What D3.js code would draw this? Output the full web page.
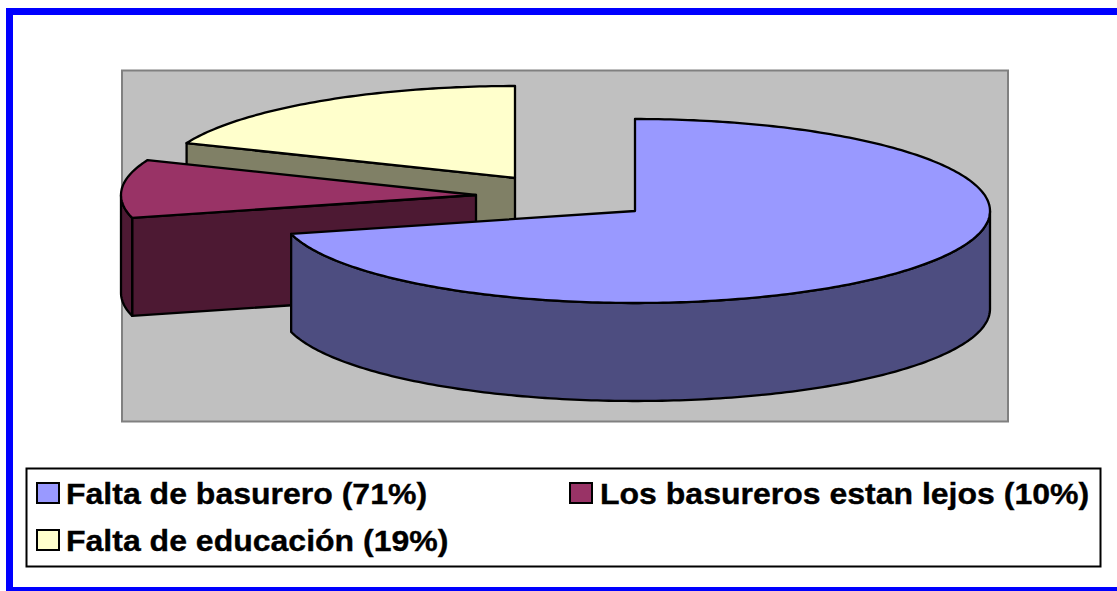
<!DOCTYPE html>
<html><head><meta charset="utf-8">
<script src="https://cdn.jsdelivr.net/npm/d3@7"></script>
<style>html,body{margin:0;padding:0;background:#fff;overflow:hidden}svg{display:block}</style>
</head><body><svg id="c" width="1117" height="591"></svg>
<script>
const categories = ["Falta de basurero (71%)", "Los basureros estan lejos (10%)", "Falta de educación (19%)"];
const values = [71, 10.2, 18.8];
const topColors = ["#9999FF", "#993366", "#FFFFCC"];
const sideColors = ["#4D4D80", "#4D1933", "#808066"];
const centers = [[635, 211], [476, 195], [515, 178]];
const legendPos = [[37, 66, 503], [570, 600, 503], [37, 66, 550]];

const RX = 355, RY = 92, DEPTH = 98;
const svg = d3.select("#c");

svg.append("rect").attr("x", 9.5).attr("y", 11.5).attr("width", 1200).attr("height", 579)
  .attr("fill", "#fff").attr("stroke", "#0000FF").attr("stroke-width", 7);
svg.append("rect").attr("x", 122).attr("y", 70.5).attr("width", 886).attr("height", 351)
  .attr("fill", "#C0C0C0").attr("stroke", "#808080").attr("stroke-width", 2);

const arcs = d3.pie().sort(null)(values);
const pt = (c, a, dy = 0) => [c[0] + RX * Math.sin(a), c[1] - RY * Math.cos(a) + dy];

function rim(c, a0, a1, dy) {
  const n = Math.max(2, Math.ceil(Math.abs(a1 - a0) * 60));
  return d3.range(n + 1).map(i => pt(c, a0 + (a1 - a0) * i / n, dy));
}
const line = d3.line();
const stroke = s => s.attr("stroke", "#000").attr("stroke-width", 2.3).attr("stroke-linejoin", "round");

// Paint back to front: yellow, burgundy, blue
[2, 1, 0].forEach(i => {
  const d = arcs[i], c = centers[i], a0 = d.startAngle, a1 = d.endAngle;
  const g = svg.append("g");
  const side = sideColors[i];
  // cut walls: only those turned towards the viewer
  [a0, a1].filter((a, k) => k === 0 ? Math.sin(a) < -1e-6 : Math.sin(a) > 1e-6).forEach(a => {
    const e = pt(c, a);
    const poly = [c, e, [e[0], e[1] + DEPTH], [c[0], c[1] + DEPTH]];
    g.append("path").attr("d", line(poly) + "Z").attr("fill", side).call(stroke);
  });
  // outer wall: front half of the ellipse only
  const lo = Math.max(a0, Math.PI / 2), hi = Math.min(a1, 3 * Math.PI / 2);
  if (hi > lo) {
    const poly = rim(c, lo, hi, 0).concat(rim(c, hi, lo, DEPTH));
    g.append("path").attr("d", line(poly) + "Z").attr("fill", side).call(stroke);
  }
  // top face
  g.append("path").attr("d", line([c].concat(rim(c, a0, a1, 0))) + "Z")
    .attr("fill", topColors[i]).call(stroke);
});

svg.append("rect").attr("x", 26.5).attr("y", 468.5).attr("width", 1074).attr("height", 98)
  .attr("fill", "#fff").attr("stroke", "#000").attr("stroke-width", 2);
categories.forEach((t, i) => {
  const [sx, tx, by] = legendPos[i];
  svg.append("rect").attr("x", sx).attr("y", by - 20).attr("width", 22).attr("height", 20)
    .attr("fill", topColors[i]).attr("stroke", "#000").attr("stroke-width", 2);
  svg.append("text").attr("transform", `translate(${tx},${by + 0.5}) scale(1.067,1)`).text(t)
    .attr("font-family", "'Liberation Sans', Arial, sans-serif")
    .attr("font-weight", "bold").attr("font-size", 30).attr("fill", "#000")
    .attr("stroke", "#000").attr("stroke-width", 0.35);
});
</script></body></html>
